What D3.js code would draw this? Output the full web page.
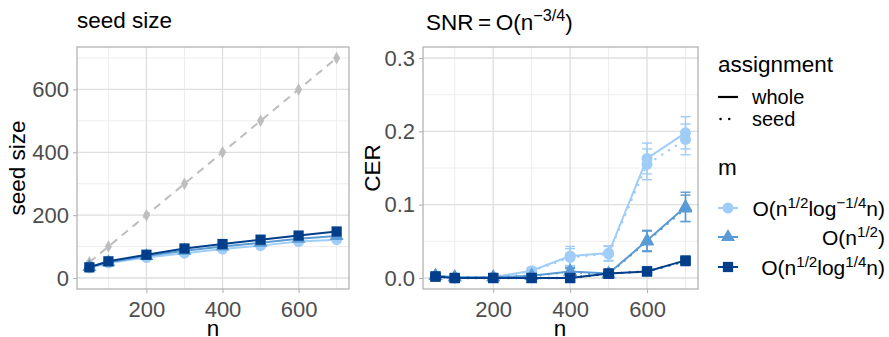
<!DOCTYPE html>
<html>
<head>
<meta charset="utf-8">
<script src="https://cdn.jsdelivr.net/npm/d3@7"></script>
<style>
  body { margin: 0; background: #fff; }
  svg { display: block; font-family: "Liberation Sans", Arial, sans-serif; }
</style>
</head>
<body>
<svg id="chart" width="889" height="337"></svg>
<script>
// ---------- data ----------
const nValues = [50, 100, 200, 300, 400, 500, 600, 700];
const seedFull = [50, 100, 200, 300, 400, 500, 600, 700];          // gray dashed reference (seed = n)
const seedLight = [32, 48, 65, 79, 92, 103, 116, 122];             // O(n^1/2 log^-1/4 n)
const seedMid = [35, 50, 70, 87, 100, 112, 125, 134];              // O(n^1/2)
const seedDark = [34, 53, 74, 94, 108, 122, 135, 148];             // O(n^1/2 log^1/4 n)

const cerLightWhole = [0.002, 0.000, 0.001, 0.010, 0.030, 0.034, 0.163, 0.198];
const cerLightSeed  = [0.002, 0.000, 0.001, 0.009, 0.028, 0.033, 0.155, 0.189];
const errLightWhole = [0.002, 0.001, 0.001, 0.004, 0.013, 0.010, 0.021, 0.022];
const errLightSeed  = [0.002, 0.001, 0.001, 0.004, 0.012, 0.010, 0.021, 0.021];
const cerMidWhole = [0.003, 0.001, 0.001, 0.003, 0.009, 0.006, 0.051, 0.097];
const cerMidSeed  = [0.003, 0.001, 0.001, 0.003, 0.008, 0.005, 0.050, 0.095];
const errMidWhole = [0.003, 0.001, 0.001, 0.002, 0.005, 0.003, 0.014, 0.020];
const errMidSeed  = [0.003, 0.001, 0.001, 0.002, 0.005, 0.003, 0.014, 0.018];
const cerDarkWhole = [0.002, 0.000, 0.000, 0.000, 0.000, 0.006, 0.009, 0.024];
const cerDarkSeed  = [0.002, 0.000, 0.000, 0.000, 0.000, 0.006, 0.009, 0.023];
const errDarkWhole = [0.001, 0.000, 0.000, 0.000, 0.000, 0.002, 0.002, 0.003];
const errDarkSeed  = [0.001, 0.000, 0.000, 0.000, 0.000, 0.002, 0.002, 0.003];

const xTicks = [200, 400, 600];
const xMinor = [100, 300, 500, 700];
const yTicksL = [0, 200, 400, 600];
const yMinorL = [100, 300, 500, 700];
const yTicksR = [0.0, 0.1, 0.2, 0.3];
const yMinorR = [0.05, 0.15, 0.25];

const colLight = "#9FCDF7", colMid = "#5A9BD5", colDark = "#023E8A", colGray = "#BEBEBE";

// ---------- setup ----------
const svg = d3.select("#chart");
const xL = d3.scaleLinear().domain([17.5, 732.5]).range([77, 349]);
const yL = d3.scaleLinear().domain([-35, 735]).range([289, 47]);
const xR = d3.scaleLinear().domain([17.5, 732.5]).range([423, 698]);
const yR = d3.scaleLinear().domain([-0.015, 0.315]).range([289, 47]);

function panel(x, y, yMajor, yMin, fmt) {
  const g = svg.append("g");
  const [x0, x1] = x.range(), [y1, y0] = y.range();
  g.selectAll(".gmy").data(yMin).join("line")
    .attr("x1", x0).attr("x2", x1).attr("y1", d => y(d)).attr("y2", d => y(d))
    .attr("stroke", "#EBEBEB").attr("stroke-width", 0.9);
  g.selectAll(".gmx").data(xMinor).join("line")
    .attr("y1", y0).attr("y2", y1).attr("x1", d => x(d)).attr("x2", d => x(d))
    .attr("stroke", "#EBEBEB").attr("stroke-width", 0.9);
  g.selectAll(".gy").data(yMajor).join("line")
    .attr("x1", x0).attr("x2", x1).attr("y1", d => y(d)).attr("y2", d => y(d))
    .attr("stroke", "#DEDEDE").attr("stroke-width", 1.3);
  g.selectAll(".gx").data(xTicks).join("line")
    .attr("y1", y0).attr("y2", y1).attr("x1", d => x(d)).attr("x2", d => x(d))
    .attr("stroke", "#DEDEDE").attr("stroke-width", 1.3);

  const ax = g.append("g").attr("transform", `translate(0,${y1})`)
    .call(d3.axisBottom(x).tickValues(xTicks).tickSize(4).tickPadding(8));
  const ay = g.append("g").attr("transform", `translate(${x0},0)`)
    .call(d3.axisLeft(y).tickValues(yMajor).tickFormat(fmt).tickSize(4).tickPadding(4));
  [ax, ay].forEach(a => {
    a.attr("font-size", 22).attr("font-family", "Liberation Sans, Arial, sans-serif");
    a.select(".domain").remove();
    a.selectAll(".tick line").attr("stroke", "#B3B3B3").attr("stroke-width", 1.1);
    a.selectAll(".tick text").attr("fill", "#4D4D4D").attr("font-size", 22);
  });
  return g;
}
function border(x, y) {
  const [x0, x1] = x.range(), [y1, y0] = y.range();
  svg.append("rect").attr("x", x0).attr("y", y0).attr("width", x1 - x0).attr("height", y1 - y0)
    .attr("fill", "none").attr("stroke", "#B3B3B3").attr("stroke-width", 1.3);
}

function symbolPath(shape) {
  if (shape === "circle") return d3.symbol(d3.symbolCircle, 95)();
  if (shape === "triangle") return d3.symbol(d3.symbolTriangle, 85)();
  if (shape === "square") return d3.symbol(d3.symbolSquare, 105)();
  if (shape === "diamond") return d3.symbol(d3.symbolDiamond, 45)();
}

function series(g, x, y, vals, color, shape, opts = {}) {
  const data = nValues.map((n, i) => ({ n, v: vals[i], e: opts.err ? opts.err[i] : 0 }));
  const line = d3.line().x(d => x(d.n)).y(d => y(d.v));
  if (opts.err) {
    const eg = g.append("g").attr("stroke", color).attr("stroke-width", 1.4);
    data.filter(d => d.e > 0).forEach(d => {
      eg.append("line").attr("x1", x(d.n)).attr("x2", x(d.n)).attr("y1", y(d.v - d.e)).attr("y2", y(d.v + d.e));
      [d.v - d.e, d.v + d.e].forEach(v => eg.append("line")
        .attr("x1", x(d.n) - 5).attr("x2", x(d.n) + 5).attr("y1", y(v)).attr("y2", y(v)));
    });
  }
  g.append("path").datum(data).attr("d", line).attr("fill", "none")
    .attr("stroke", color).attr("stroke-width", opts.width || 2)
    .attr("stroke-dasharray", opts.dash || null).attr("stroke-linecap", opts.cap || "butt");
  g.selectAll(null).data(data).join("path")
    .attr("transform", d => `translate(${x(d.n)},${y(d.v)})`)
    .attr("d", symbolPath(shape)).attr("fill", color);
}

// ---------- left panel ----------
const gL = panel(xL, yL, yTicksL, yMinorL, d3.format("d"));
series(gL, xL, yL, seedFull, colGray, "diamond", { dash: "8,6" });
series(gL, xL, yL, seedLight, colLight, "circle");
series(gL, xL, yL, seedMid, colMid, "triangle");
series(gL, xL, yL, seedDark, colDark, "square");
border(xL, yL);

// ---------- right panel ----------
const gR = panel(xR, yR, yTicksR, yMinorR, d3.format(".1f"));
const dotted = { dash: "0.1,8", cap: "round", width: 2.4 };
series(gR, xR, yR, cerLightSeed, colLight, "circle", { ...dotted, err: errLightSeed });
series(gR, xR, yR, cerLightWhole, colLight, "circle", { err: errLightWhole });
series(gR, xR, yR, cerMidSeed, colMid, "triangle", { ...dotted, err: errMidSeed });
series(gR, xR, yR, cerMidWhole, colMid, "triangle", { err: errMidWhole });
series(gR, xR, yR, cerDarkSeed, colDark, "square", { ...dotted, err: errDarkSeed });
series(gR, xR, yR, cerDarkWhole, colDark, "square", { err: errDarkWhole });
border(xR, yR);

// ---------- text helpers ----------
function richText(sel, parts, size) {
  sel.attr("font-size", size);
  parts.forEach(p => {
    if (typeof p === "string") {
      sel.append("tspan").attr("font-size", size).text(p);
    } else {
      const s = size * 0.72;
      sel.append("tspan").attr("font-size", s).attr("dy", -size * 0.4).text(p.sup);
      sel.append("tspan").attr("font-size", size).attr("dy", size * 0.4).text("\u200B");
    }
  });
}

// titles
svg.append("text").attr("x", 77).attr("y", 28).attr("font-size", 22.5).attr("fill", "#000").text("seed size");
richText(svg.append("text").attr("x", 426).attr("y", 30).attr("fill", "#000"),
  ["SNR\u2009=\u2009O(n", { sup: "\u22123/4" }, ")"], 22.5);

// axis titles
svg.append("text").attr("x", 213).attr("y", 336).attr("text-anchor", "middle").attr("font-size", 22.5).text("n");
svg.append("text").attr("x", 560).attr("y", 336).attr("text-anchor", "middle").attr("font-size", 22.5).text("n");
svg.append("text").attr("transform", "translate(25,168) rotate(-90)").attr("text-anchor", "middle").attr("font-size", 22.5).text("seed size");
svg.append("text").attr("transform", "translate(380,168) rotate(-90)").attr("text-anchor", "middle").attr("font-size", 22.5).text("CER");

// ---------- legend ----------
const lg = svg.append("g");
lg.append("text").attr("x", 718).attr("y", 72).attr("font-size", 22.5).text("assignment");
const assignItems = ["whole", "seed"];
const assignDash = [null, "0.1,8.6"];
assignItems.forEach((a, i) => {
  const yy = 97 + i * 22;
  lg.append("line").attr("x1", i === 0 ? 718 : 720.5).attr("x2", i === 0 ? 738 : 736).attr("y1", yy).attr("y2", yy)
    .attr("stroke", "#000").attr("stroke-width", i === 0 ? 2.2 : 2.4)
    .attr("stroke-dasharray", assignDash[i]).attr("stroke-linecap", i === 0 ? "butt" : "round");
  lg.append("text").attr("x", 752).attr("y", yy + 7).attr("font-size", 20).text(a);
});
lg.append("text").attr("x", 718).attr("y", 175).attr("font-size", 22.5).text("m");
const mLabels = [
  ["O(n", { sup: "1/2" }, "log", { sup: "\u22121/4" }, "n)"],
  ["O(n", { sup: "1/2" }, ")"],
  ["O(n", { sup: "1/2" }, "log", { sup: "1/4" }, "n)"]
];
const mColors = [colLight, colMid, colDark];
const mShapes = ["circle", "triangle", "square"];
const mY = [208, 237, 267];
mLabels.forEach((lab, i) => {
  lg.append("line").attr("x1", 718).attr("x2", 738).attr("y1", mY[i]).attr("y2", mY[i])
    .attr("stroke", mColors[i]).attr("stroke-width", 2);
  lg.append("path").attr("transform", `translate(728,${mY[i]})`).attr("d", symbolPath(mShapes[i])).attr("fill", mColors[i]);
  richText(lg.append("text").attr("x", 885).attr("y", mY[i] + 8).attr("text-anchor", "end"), lab, 21);
});
</script>
</body>
</html>
